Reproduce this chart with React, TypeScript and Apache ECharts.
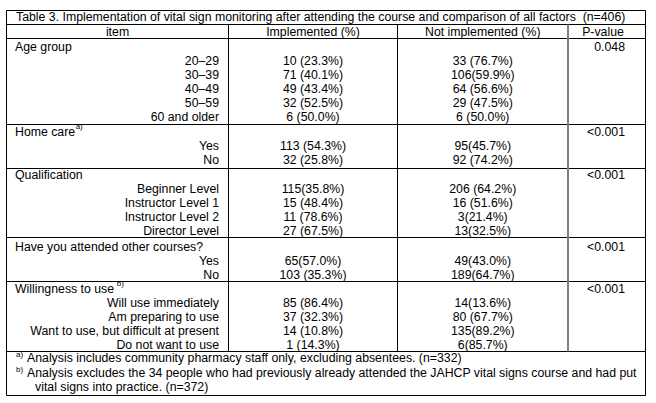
import React, { useEffect, useRef } from "react";
import * as echarts from "echarts";

const titleText =
  "Table 3. Implementation of vital sign monitoring after attending the course and comparison of all factors  (n=406)";
const headers = ["item", "Implemented (%)", "Not implemented (%)", "P-value"];
const groupNames = ["Age group", "Home care", "Qualification", "Have you attended other courses?", "Willingness to use"];
const groupNotes = ["", "a)", "", "", " b)"];
const pValues = ["0.048", "<0.001", "<0.001", "<0.001", "<0.001"];

const ageItems = ["20–29", "30–39", "40–49", "50–59", "60 and older"];
const ageImplemented = ["10 (23.3%)", "71 (40.1%)", "49 (43.4%)", "32 (52.5%)", "6 (50.0%)"];
const ageNotImplemented = ["33 (76.7%)", "106(59.9%)", "64 (56.6%)", "29 (47.5%)", "6 (50.0%)"];

const homeCareItems = ["Yes", "No"];
const homeCareImplemented = ["113 (54.3%)", "32 (25.8%)"];
const homeCareNotImplemented = ["95(45.7%)", "92 (74.2%)"];

const qualItems = ["Beginner Level", "Instructor Level 1", "Instructor Level 2", "Director Level"];
const qualImplemented = ["115(35.8%)", "15 (48.4%)", "11 (78.6%)", "27 (67.5%)"];
const qualNotImplemented = ["206 (64.2%)", "16 (51.6%)", "3(21.4%)", "13(32.5%)"];

const otherItems = ["Yes", "No"];
const otherImplemented = ["65(57.0%)", "103 (35.3%)"];
const otherNotImplemented = ["49(43.0%)", "189(64.7%)"];

const willItems = [
  "Will use immediately",
  "Am preparing to use",
  "Want to use, but difficult at present",
  "Do not want to use",
];
const willImplemented = ["85 (86.4%)", "37 (32.3%)", "14 (10.8%)", "1 (14.3%)"];
const willNotImplemented = ["14(13.6%)", "80 (67.7%)", "135(89.2%)", "6(85.7%)"];

const footnoteMarks = ["a)", "b)"];
const footnoteLines = [
  "Analysis includes community pharmacy staff only, excluding absentees. (n=332)",
  "Analysis excludes the 34 people who had previously already attended the JAHCP vital signs course and had put",
  "vital signs into practice. (n=372)",
];

const groupItems = [ageItems, homeCareItems, qualItems, otherItems, willItems];
const groupImpl = [ageImplemented, homeCareImplemented, qualImplemented, otherImplemented, willImplemented];
const groupNot = [ageNotImplemented, homeCareNotImplemented, qualNotImplemented, otherNotImplemented, willNotImplemented];

// layout
const FAMILY = "'Liberation Sans', Arial, Helvetica, sans-serif";
const FS = 12.3;
const SUP = 8;
const LEFT = 6.5;
const RIGHT = 645.5;
const TOP = 10.5;
const BOTTOM = 395.5;
const COLS = [228.5, 397.5, 568];
const GROUP_TOPS = [38.5, 124.5, 168.5, 237.5, 281.5];
const GROUP_END = 351.5;
const FIRST_OFFSET = [8, 7.5, 6, 9.5, 7.5];
const PITCH = 14.1;

function measure(text: string, size: number, weight = "normal") {
  const c = document.createElement("canvas");
  const ctx = c.getContext("2d");
  if (!ctx) return text.length * size * 0.5;
  ctx.font = `${weight} ${size}px ${FAMILY}`;
  return ctx.measureText(text).width;
}

function txt(text: string, x: number, y: number, align: string = "left", size = FS, vAlign = "middle", weight = "normal") {
  return {
    type: "text",
    x,
    y,
    silent: true,
    style: {
      text,
      fontSize: size,
      fontFamily: FAMILY,
      fontWeight: weight,
      fill: "#000",
      align,
      verticalAlign: vAlign,
      textAlign: align,
      textVerticalAlign: vAlign,
    },
  };
}

function line(x1: number, y1: number, x2: number, y2: number, color = "#000", w = 1) {
  return {
    type: "line",
    silent: true,
    shape: { x1, y1, x2, y2 },
    style: { stroke: color, lineWidth: w },
  };
}

export default function App() {
  const ref = useRef<HTMLDivElement>(null);
  useEffect(() => {
    document.body.style.margin = "0";
    if (!ref.current) return;
    const chart = echarts.init(ref.current, undefined, { renderer: "svg" });
    const els: any[] = [];
    els.push({ type: "rect", shape: { x: 0, y: 0, width: 656, height: 403 }, style: { fill: "#fff" }, silent: true });

    // horizontal rules
    const hs = [TOP, 24.5, 38.5, ...GROUP_TOPS.slice(1), GROUP_END, BOTTOM];
    hs.forEach((y) => els.push(line(LEFT, y, RIGHT, y)));
    // outer vertical borders
    els.push(line(LEFT, TOP, LEFT, BOTTOM));
    els.push(line(RIGHT, TOP, RIGHT, BOTTOM));
    // column dividers
    els.push(line(COLS[0], 24.5, COLS[0], GROUP_END));
    els.push(line(COLS[1], 24.5, COLS[1], GROUP_END));
    els.push(line(COLS[2], 24.5, COLS[2], GROUP_END, "#7f7f7f", 2));

    // title
    els.push(txt(titleText, 16, 17));
    // headers
    const centers = [(LEFT + COLS[0]) / 2, (COLS[0] + COLS[1]) / 2, (COLS[1] + COLS[2]) / 2, 603];
    headers.forEach((h, i) => els.push(txt(h, centers[i], 31.5, "center")));

    groupNames.forEach((g, gi) => {
      const y0 = GROUP_TOPS[gi] + FIRST_OFFSET[gi];
      els.push(txt(g, 15, y0));
      if (groupNotes[gi]) {
        const w = measure(g, FS);
        els.push(txt(groupNotes[gi], 15 + w + 0.5, y0 - 10, "left", SUP, "top"));
      }
      els.push(txt(pValues[gi], 625, y0, "right"));
      groupItems[gi].forEach((it, ri) => {
        const y = y0 + PITCH * (ri + 1);
        els.push(txt(it, 219, y, "right"));
        els.push(txt(groupImpl[gi][ri], centers[1], y, "center"));
        els.push(txt(groupNot[gi][ri], centers[2], y, "center"));
      });
    });

    // footnotes
    els.push(txt(footnoteMarks[0], 16, 350.5, "left", SUP, "top"));
    els.push(txt(footnoteLines[0], 27, 358));
    els.push(txt(footnoteMarks[1], 16, 365, "left", SUP, "top"));
    els.push(txt(footnoteLines[1], 27, 372.5));
    els.push(txt(footnoteLines[2], 35, 386.5));

    chart.setOption({ animation: false, graphic: { elements: els } });
    return () => chart.dispose();
  }, []);
  return <div ref={ref} style={{ width: 656, height: 403, background: "#fff" }} />;
}
